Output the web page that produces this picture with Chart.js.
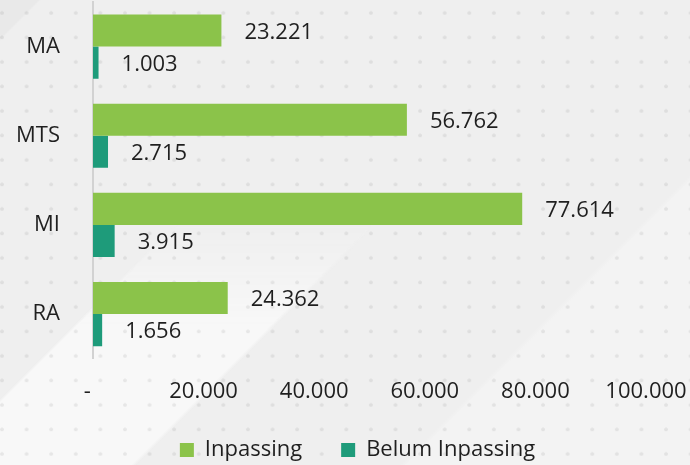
<!DOCTYPE html>
<html>
<head>
<meta charset="utf-8">
<script src="https://cdn.jsdelivr.net/npm/chart.js@4.4.1/dist/chart.umd.min.js"></script>
<style>
html,body{margin:0;padding:0;}
body{width:690px;height:465px;overflow:hidden;background:#efefef;}
#wrap{position:relative;width:690px;height:465px;
  background: linear-gradient(135deg, #e9e9e9 0px, #e9e9e9 27px, #efefef 29px, #efefef 612px, #f3f3f3 616px, #f3f3f3 100%);
}
#band{position:absolute;left:0;top:0;width:690px;height:465px;
  background: linear-gradient(135deg, rgba(248,248,248,0) 0px, rgba(248,248,248,0) 282px, #f8f8f8 285px, #f8f8f8 421px, rgba(248,248,248,0) 425px);
  -webkit-mask-image: linear-gradient(to bottom, rgba(0,0,0,0) 220px, #000 330px);
  mask-image: linear-gradient(to bottom, rgba(0,0,0,0) 220px, #000 330px);
}
#dots{position:absolute;left:0;top:0;width:690px;height:465px;
  background: radial-gradient(circle at 2px 13px, rgba(0,0,0,0.07) 1.5px, rgba(0,0,0,0) 2.2px) 0 0/24.6px 24.5px;
}
canvas{display:block;position:relative;}
</style>
</head>
<body>
<div id="wrap"><div id="band"></div><div id="dots"></div><canvas id="c" width="690" height="465"></canvas></div>
<script>
const categories = ['MA', 'MTS', 'MI', 'RA'];
const inpassing = [23221, 56762, 77614, 24362];
const belumInpassing = [1003, 2715, 3915, 1656];
const seriesNames = ['Inpassing', 'Belum Inpassing'];
const xTicks = [0, 20000, 40000, 60000, 80000, 100000];

const FONT = '"Open Sans", "Noto Sans", sans-serif';
const TXT = '#1f1f1f';

function fmt(n) {
  return String(n).replace(/\B(?=(\d{3})+(?!\d))/g, '.');
}

const valueLabels = {
  id: 'valueLabels',
  afterDatasetsDraw(chart) {
    const ctx = chart.ctx;
    ctx.save();
    ctx.font = '22px ' + FONT;
    ctx.fillStyle = TXT;
    ctx.textBaseline = 'middle';
    ctx.textAlign = 'left';
    chart.data.datasets.forEach((ds, i) => {
      const meta = chart.getDatasetMeta(i);
      meta.data.forEach((bar, j) => {
        ctx.fillText(fmt(ds.data[j]), bar.x + 23, bar.y + 2);
      });
    });
    ctx.restore();
  }
};

// shift the legend row so it sits centred where the reference has it
const legendShift = {
  id: 'legendShift',
  afterLayout(chart) {
    const lg = chart.legend;
    if (lg) { lg.left += 34.5; lg.right += 34.5; }
  }
};

new Chart(document.getElementById('c'), {
  type: 'bar',
  data: {
    labels: categories,
    datasets: [
      { label: seriesNames[0], data: inpassing, backgroundColor: '#8bc34a' },
      { label: seriesNames[1], data: belumInpassing, backgroundColor: '#1e9b7a' }
    ]
  },
  options: {
    indexAxis: 'y',
    responsive: false,
    animation: false,
    events: [],
    categoryPercentage: 0.72,
    barPercentage: 1.0,
    layout: { padding: { top: 2, left: 0, right: 44, bottom: -6 } },
    scales: {
      x: {
        min: 0, max: 100000,
        afterBuildTicks(scale) { scale.ticks = xTicks.map(v => ({ value: v })); },
        afterFit(scale) { scale.height = 41.3; scale.paddingLeft = 0; scale.paddingRight = 0; },
        grid: { display: false, drawTicks: false },
        border: { display: false },
        ticks: {
          font: { family: FONT, size: 22 },
          color: TXT,
          padding: 20,
          maxRotation: 0,
          autoSkip: false,
          callback: v => v === 0 ? '-  ' : fmt(v)
        }
      },
      y: {
        afterFit(scale) { scale.width = 93; scale.paddingTop = 0; scale.paddingBottom = 0; },
        grid: { display: false, drawTicks: false },
        border: { display: true, color: '#d2d2d2', width: 2 },
        ticks: {
          font: { family: FONT, size: 22 },
          color: TXT,
          padding: 33
        }
      }
    },
    plugins: {
      legend: {
        position: 'bottom',
        labels: {
          boxWidth: 14,
          boxHeight: 14,
          padding: 39,
          color: TXT,
          font: { family: FONT, size: 22 }
        }
      },
      tooltip: { enabled: false }
    }
  },
  plugins: [valueLabels, legendShift]
});
</script>
</body>
</html>
